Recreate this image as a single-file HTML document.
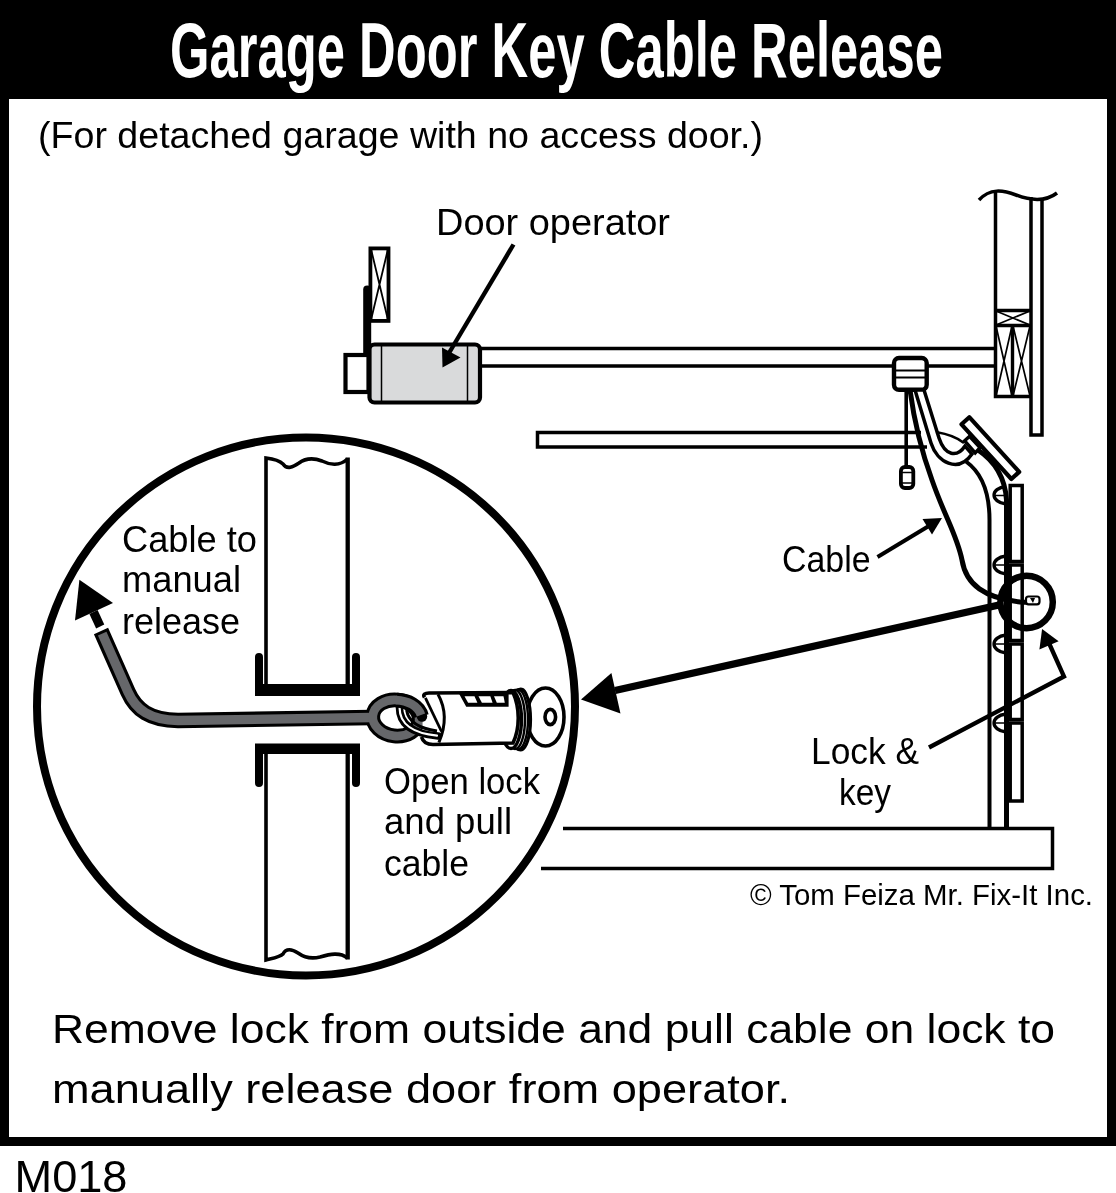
<!DOCTYPE html>
<html lang="en">
<head>
<meta charset="utf-8">
<title>Garage Door Key Cable Release</title>
<style>
html,body{margin:0;padding:0;background:#fff;}
body{width:1116px;height:1193px;overflow:hidden;position:relative;}
svg{display:block;position:absolute;left:0;top:0;will-change:transform;}
text{font-family:"Liberation Sans",sans-serif;fill:#000;}
.t{font-family:"Liberation Sans",sans-serif;font-weight:bold;fill:#fff;}
</style>
</head>
<body>
<svg width="1116" height="1193" viewBox="0 0 1116 1193">
<!-- FRAME -->
<rect x="0" y="0" width="1116" height="1146" fill="#000"/>
<rect x="9" y="99" width="1098" height="1038" fill="#fff"/>
<text class="t" x="170" y="77" font-size="78" textLength="773" lengthAdjust="spacingAndGlyphs">Garage Door Key Cable Release</text>
<!-- DRAWING -->
<g id="drawing" fill="none" stroke="#000" stroke-width="3" stroke-linejoin="miter">
<!-- left header block with X -->
<rect x="370.400" y="248.400" width="18.100" height="72.500" fill="#fff" stroke-width="3.800"/>
<path d="M371 249 L388 320 M388 249 L371 320" stroke-width="1.800"/>
<!-- hanging bracket -->
<path d="M367.200 289.500 V353" stroke-width="8" stroke-linecap="round"/>
<!-- small box at back of operator -->
<rect x="345.500" y="355" width="23" height="37" fill="#fff" stroke-width="4.200"/>
<!-- operator body -->
<rect x="369.500" y="344.500" width="110.500" height="58" rx="5" ry="5" fill="#d9dadb" stroke-width="4.200"/>
<path d="M381.500 346 V401 M467.500 346 V401" stroke-width="1.500"/>
<!-- rail -->
<path d="M481 348.500 H995 M481 366 H995" stroke-width="3.600"/>
<!-- open door panel (horizontal) -->
<path d="M921 432.500 H537.500 V447 H927" stroke-width="3.500"/>
<!-- wall at right -->
<path d="M979 200 C 990 188, 1003 190, 1016 195 S 1044 203, 1057 193" stroke-width="3.500"/>
<path d="M995.500 192 V396.500 H1030" stroke-width="3.500"/>
<path d="M1031 197 V435 H1042 V199" stroke-width="3.500"/>
<path d="M995.500 310.500 H1030 M994 325.500 H1030 M1012.500 325.500 V396" stroke-width="3.400"/>
<path d="M996 311 L1030 325 M1030 311 L996 325 M996 326 L1012 396 M1012 326 L996 396 M1013 326 L1030 396 M1030 326 L1013 396" stroke-width="1.700"/>
<!-- trolley -->
<rect x="894" y="358" width="32.700" height="31.800" rx="5" ry="5" fill="#fff" stroke-width="4.400"/>
<path d="M895 370.600 H926 M895 377.400 H926" stroke-width="2"/>
<!-- pull cord -->
<path d="M906.200 391 V468" stroke-width="3.600"/>
<rect x="900.900" y="467" width="12.400" height="21" rx="4" ry="4" fill="#fff" stroke-width="3.800"/>
<path d="M902 472.500 H912 M902 483 H912" stroke-width="1.500"/>

<!-- floor -->
<path d="M563 828.500 H1052.500 V868.500 H541" stroke-width="3.500"/>
<!-- vertical track -->
<path d="M989.500 828 V520 C 989.500 492, 982 473, 966 461.500" stroke-width="4"/>
<path d="M1006.500 828 V500 C 1005.200 480, 996 462, 978 450" stroke-width="5"/>
<!-- door sections (vertical) -->
<rect x="1010.200" y="485.500" width="12" height="76" fill="#fff" stroke-width="3.500"/>
<rect x="1010.200" y="565" width="12" height="75.500" fill="#fff" stroke-width="3.500"/>
<rect x="1010.200" y="644" width="12" height="75.500" fill="#fff" stroke-width="3.500"/>
<rect x="1010.200" y="723" width="12" height="78" fill="#fff" stroke-width="3.500"/>
<!-- rollers -->
<path d="M1006 486.500 C 990 488, 990 502, 1006 504 M1006 556 C 990 558, 990 572, 1006 574 M1006 635 C 990 637, 990 651, 1006 653 M1006 714 C 990 716, 990 730, 1006 732" stroke-width="3.300"/>
<path d="M994 495.500 H1006 M994 565 H1006 M994 644 H1006 M994 723 H1006" stroke-width="1.300"/>
<!-- tilted top door section -->
<path d="M961.500 424.300 L969.300 417.200 L1019.200 471.900 L1011.400 479 Z" fill="#fff" stroke-width="4.200" stroke-linejoin="round"/>
<path d="M964.700 440.800 L969.500 436.300 L980 447.700 L975.200 452.900 Z" fill="#fff" stroke-width="3.400"/>
<!-- arm -->
<path d="M915 390 L931 443 C 937 462, 958 474, 972 454 L965 446 C 957 458, 945 456, 939 438 L924 390 Z" fill="#fff" stroke-width="3.500"/>
<path d="M936 432 C 948 434, 958 438, 964 443" stroke-width="2.400"/>
<!-- thin release cable in main view -->
<path d="M910 390 C 914 420, 921 450, 932 480 C 944 515, 957 535, 962 560 C 966 585, 985 598, 1020 602 C 1026 602.500, 1030 602.500, 1033 602" stroke-width="5"/>
<rect x="1026" y="596.500" width="13.500" height="7.800" rx="2.500" fill="#fff" stroke-width="2.200"/>
<path d="M1030 598 L1035 598 L1033 603 Z" fill="#000" stroke="none"/>
<!-- lock circle -->
<circle cx="1026.600" cy="602" r="26.200" stroke-width="6.500"/>

<!-- arrows -->
<path d="M513.500 244.500 L449 353" stroke-width="4.400"/>
<path d="M442 347.400 L460.500 357.600 L442.500 367.600 Z" fill="#000" stroke="none"/>
<path d="M877.500 557 L928 526.500" stroke-width="4"/>
<path d="M942 518 L932 534.500 L922.500 519 Z" fill="#000" stroke="none"/>
<path d="M929 747.500 L1064 676.500 L1048.500 642" stroke-width="4.300"/>
<path d="M1042.100 629 L1058.600 641.300 L1039.400 649.600 Z" fill="#000" stroke="none"/>
<path d="M999 605 L615 690.500" stroke-width="7.400"/>
<path d="M581 699.600 L611.400 673 L620.500 713.500 Z" fill="#000" stroke="none"/>
<!-- big detail circle -->
<circle cx="306" cy="706.500" r="269" fill="#fff" stroke-width="8"/>

<!-- wall section in detail -->
<path d="M266 686 V458 C 274 459, 280 461, 283 464 C 287 470, 293 467, 299 463 C 306 458, 314 458, 322 461 C 330 465, 340 466, 347.500 459" fill="none" stroke-width="3.600"/>
<path d="M266 752 V960 C 274 958, 280 957, 283 954 C 286 948, 292 949, 298 953 C 305 958, 312 959, 320 957 C 330 954, 340 952, 347.500 958" fill="none" stroke-width="3.600"/>
<path d="M347.700 457.500 V686 M347.700 752 V959.500" stroke-width="4.300"/>
<!-- channels -->
<path d="M259 657 V690 H356 V657" stroke-width="8" stroke-linecap="round" stroke-linejoin="miter"/>
<rect x="255" y="684" width="105" height="12" fill="#000" stroke="none"/>
<path d="M259 783 V749 H356 V783" stroke-width="8" stroke-linecap="round" stroke-linejoin="miter"/>
<rect x="255" y="743.500" width="105" height="10.500" fill="#000" stroke="none"/>
<!-- cable in detail -->
<path d="M101 631 L128 692 C 136 710, 150 720, 178 720.500 L372 717.500" stroke="#000" stroke-width="15.500" stroke-linecap="butt" stroke-linejoin="round"/>
<ellipse cx="396" cy="718" rx="23.300" ry="18" stroke="#000" stroke-width="14.700" transform="rotate(6 396 718)"/>
<path d="M102.200 633.700 L128 692 C 136 710, 150 720, 178 720.500 L372 717.500" stroke="#66676a" stroke-width="9.300" stroke-linecap="butt" stroke-linejoin="round"/>
<ellipse cx="396" cy="718" rx="23.300" ry="18" stroke="#66676a" stroke-width="8.700" transform="rotate(6 396 718)"/>
<path d="M93.500 612 L100.200 626.500" stroke-width="9"/>
<path d="M79.400 579.700 L113 603 L75 620.600 Z" fill="#000" stroke="none"/>
<!-- key + lock -->
<ellipse cx="545.500" cy="717" rx="18.500" ry="29" fill="#fff" stroke-width="3.600"/>
<ellipse cx="550.300" cy="717" rx="5.300" ry="7.600" fill="#fff" stroke-width="3.600"/>
<ellipse cx="520.500" cy="719.500" rx="10" ry="30.500" fill="#fff" stroke-width="3.200"/>
<ellipse cx="518" cy="719.500" rx="10" ry="30" fill="#fff" stroke-width="2.400"/>
<ellipse cx="515" cy="719.500" rx="10" ry="29.500" fill="#fff" stroke-width="2.400"/>
<ellipse cx="511" cy="719.500" rx="10.500" ry="29" fill="#fff" stroke-width="3.400"/>
<path d="M513 692.500 L429 693 C 425 693, 422.500 694.500, 424.500 697.500 L421.500 737 C 423 742, 427 744.500, 433 744.500 L513 743 C 520 728, 520 708, 513 692.500 Z" fill="#fff" stroke="none"/>
<path d="M513 692.500 L429 693 C 425 693, 422.500 694.500, 424.500 697.500 M421.500 737 C 423 742, 427 744.500, 433 744.500 L513 743 C 520 728, 520 708, 513 692.500" stroke-width="3.600"/>
<path d="M399.400 707 C 399.400 725, 414 734, 438 736" stroke="#000" stroke-width="7.500" stroke-linecap="round"/>
<path d="M399.600 708 C 399.600 724.500, 414 733.500, 437 735.600" stroke="#fff" stroke-width="2.200" stroke-linecap="round"/>
<path d="M406.600 710 C 408.400 722, 418.200 728.400, 437 731" stroke-width="3"/>
<circle cx="422" cy="716.500" r="5.200" fill="#000" stroke="none"/>
<path d="M397 700.200 C 408 700.500, 419 706, 421.500 716" stroke="#000" stroke-width="14.700"/>
<path d="M396 700.100 C 408 700.500, 418 706, 421 715" stroke="#66676a" stroke-width="8.700"/>
<path d="M438 694.300 C 446.500 709.600, 446.500 724.800, 438.900 742.500" stroke-width="3"/>
<path d="M425.400 697.900 L441.500 731.500" stroke-width="2.800"/>
<path d="M460.5 694.2 L466.8 705.8 L507.6 705.8 L507.6 694.2 Z" fill="#000" stroke-width="2"/>
<path d="M464.5 696.3 L474.5 696.3 L477.4 702.7 L468.1 702.7 Z" fill="#fff" stroke="none"/>
<path d="M478.5 696.3 L490.3 696.3 L492.6 702.7 L481.9 702.7 Z" fill="#fff" stroke="none"/>
<path d="M494 696.3 L503.5 696.3 L504.8 702.7 L496.8 702.7 Z" fill="#fff" stroke="none"/>
</g>
<!-- TEXT -->
<g id="labels">
<text x="38" y="148" font-size="37" textLength="725" lengthAdjust="spacingAndGlyphs">(For detached garage with no access door.)</text>
<text x="436" y="234.500" font-size="37" textLength="234" lengthAdjust="spacingAndGlyphs">Door operator</text>
<text x="782" y="571.500" font-size="37" textLength="88.500" lengthAdjust="spacingAndGlyphs">Cable</text>
<text x="811" y="763.500" font-size="37" textLength="108" lengthAdjust="spacingAndGlyphs">Lock &amp;</text>
<text x="839" y="805" font-size="37" textLength="52" lengthAdjust="spacingAndGlyphs">key</text>
<text x="750" y="904.500" font-size="30" textLength="343" lengthAdjust="spacingAndGlyphs">© Tom Feiza Mr. Fix-It Inc.</text>
<text x="122" y="551.500" font-size="37" textLength="135" lengthAdjust="spacingAndGlyphs">Cable to</text>
<text x="122" y="592" font-size="37" textLength="119" lengthAdjust="spacingAndGlyphs">manual</text>
<text x="122" y="633.500" font-size="37" textLength="118" lengthAdjust="spacingAndGlyphs">release</text>
<text x="384" y="793.500" font-size="37" textLength="156" lengthAdjust="spacingAndGlyphs">Open lock</text>
<text x="384" y="834" font-size="37" textLength="128" lengthAdjust="spacingAndGlyphs">and pull</text>
<text x="384" y="875.500" font-size="37" textLength="85" lengthAdjust="spacingAndGlyphs">cable</text>
<text x="52" y="1042.500" font-size="40" textLength="1003" lengthAdjust="spacingAndGlyphs">Remove lock from outside and pull cable on lock to</text>
<text x="52" y="1103" font-size="40" textLength="738" lengthAdjust="spacingAndGlyphs">manually release door from operator.</text>
<text x="14.500" y="1192" font-size="45" textLength="113" lengthAdjust="spacingAndGlyphs">M018</text>
</g>
</svg>
</body>
</html>
